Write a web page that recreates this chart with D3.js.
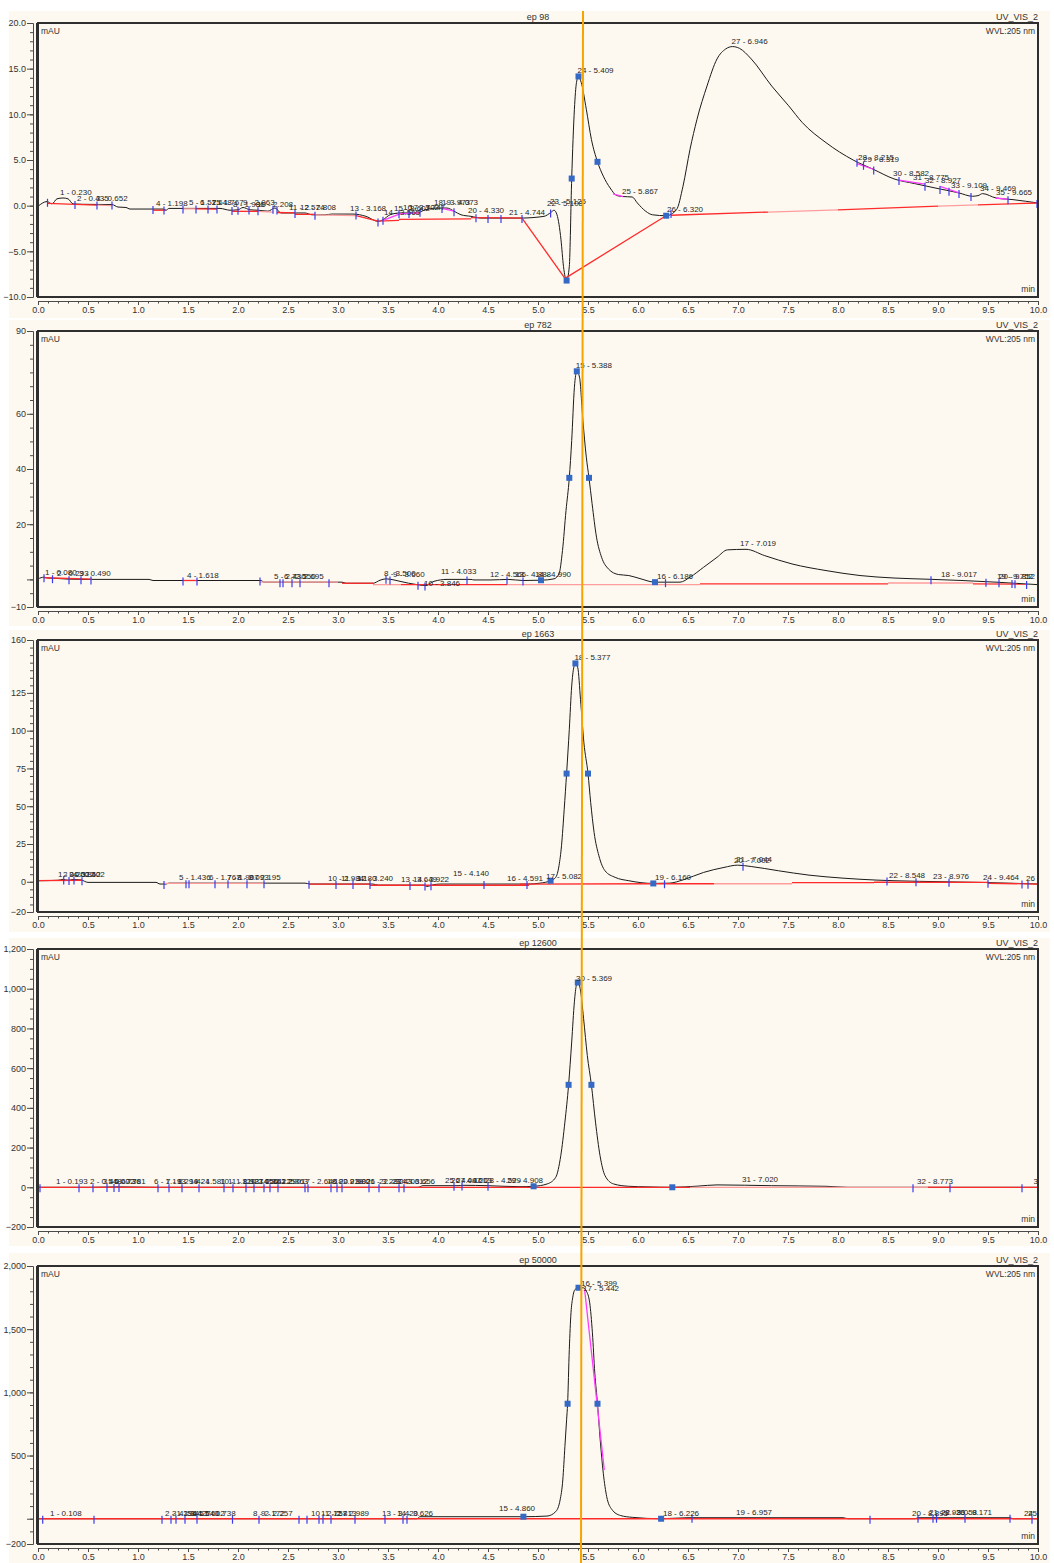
<!DOCTYPE html>
<html>
<head>
<meta charset="utf-8">
<script src="https://cdn.jsdelivr.net/npm/d3@7"></script>
<style>
  html, body { margin: 0; padding: 0; background: #ffffff; }
  svg { display: block; font-family: "Liberation Sans", Arial, sans-serif; }
</style>
</head>
<body>
<svg id="chart" width="1054" height="1563"></svg>
<script>
// ---------- chromatogram data (time in min, signal in mAU) ----------
const samples = ["ep 98", "ep 782", "ep 1663", "ep 12600", "ep 50000"];
const channelName = "UV_VIS_2";
const wavelengthLabel = "WVL:205 nm";
const signalUnit = "mAU";
const timeUnit = "min";
const timeTickLabels = [0, 0.5, 1, 1.5, 2, 2.5, 3, 3.5, 4, 4.5, 5, 5.5, 6, 6.5, 7, 7.5, 8, 8.5, 9, 9.5, 10];
const yDomains = [[-10, 20], [-10, 90], [-20, 160], [-200, 1200], [-200, 2000]];
const yTickLabels = [
  [20, 15, 10, 5, 0, -5, -10],
  [90, 60, 40, 20, -10],
  [160, 125, 100, 75, 50, 25, 0, -20],
  [1200, 1000, 800, 600, 400, 200, 0, -200],
  [2000, 1500, 1000, 500, -200]
];
const yMinorSteps = [1, 5, 5, 50, 100];
const cursorTimes = [5.45, 5.43]; // cursor line: time at top and at bottom of the page

const trace98 = [
  [0,-0.07],[0.09,0.45],[0.14,0.2],[0.19,0.75],[0.25,0.84],[0.30,0.75],[0.35,0.2],[0.45,0.15],[0.74,0.12],
  [0.80,-0.15],[0.88,-0.2],[0.92,-0.37],[1.25,-0.37],[1.28,-0.5],[1.31,-0.3],[1.82,-0.3],[1.92,-0.5],[2.0,-0.45],
  [2.05,-0.2],[2.12,-0.45],[2.2,-0.5],[2.3,-0.6],[2.37,-0.25],[2.43,-0.8],[2.67,-0.8],[2.74,-1.0],[2.87,-1.0],
  [2.94,-0.92],[3.15,-0.92],[3.28,-1.17],[3.40,-1.72],[3.45,-1.54],[3.52,-1.0],[3.62,-0.8],[3.79,-0.8],[3.86,-0.5],
  [3.99,-0.26],[4.09,-0.26],[4.16,-0.6],[4.23,-1.0],[4.33,-1.17],[4.43,-1.36],[4.82,-1.36],[5.06,-1.17],[5.13,-0.73],
  [5.16,-0.5],[5.19,-1.0],[5.23,-3.74],[5.255,-6.67],[5.286,-8.2],[5.313,-6.67],[5.337,2.97],[5.364,10.56],[5.385,13.5],
  [5.405,14.15],[5.432,13.5],[5.483,10.56],[5.534,7.26],[5.595,4.8],[5.653,3.23],[5.721,1.94],[5.789,1.1],[5.85,1.0],
  [5.942,0.95],[5.993,0.3],[6.078,-0.62],[6.146,-1.0],[6.282,-1.1],[6.385,-0.44],[6.45,2.13],[6.52,6.16],[6.59,9.46],
  [6.69,13.1],[6.79,16.06],[6.877,17.16],[6.945,17.42],[7.014,17.23],[7.133,16.06],[7.337,13.1],[7.507,10.93],[7.643,9.1],
  [7.88,6.9],[8.153,4.99],[8.357,3.96],[8.56,2.93],[8.765,2.42],[8.97,1.94],[9.208,1.4],[9.344,1.03],[9.40,1.1],
  [9.446,1.32],[9.58,0.84],[9.75,0.66],[10.0,0.29]
];
const trace782 = [
  [0,0.2],[0.06,0.8],[0.10,0.5],[0.16,0.4],[0.3,0.1],[0.47,0],[1.11,0],[1.15,-0.4],[2.23,-0.4],[2.26,-1.0],[3.04,-1.0],
  [3.08,-1.4],[3.35,-1.4],[3.42,-0.3],[3.48,0.2],[3.56,-0.2],[3.62,-0.7],[3.79,-1.9],[3.87,-2.2],[3.96,-0.7],[4.09,0],
  [4.33,0],[4.36,-0.2],[4.53,-0.2],[4.7,0],[4.85,-0.4],[5.03,-0.3],[5.16,0.2],[5.21,2.0],[5.245,10.5],[5.28,24.9],
  [5.313,36.8],[5.337,50.3],[5.364,69.6],[5.388,75.4],[5.415,73.3],[5.449,57.6],[5.483,44.3],[5.51,36.8],[5.541,27.4],
  [5.585,15.3],[5.636,8.0],[5.704,3.8],[5.806,1.75],[5.908,1.4],[6.01,0.4],[6.17,-1.0],[6.42,-1.0],[6.52,0.8],
  [6.656,4.4],[6.79,8.0],[6.894,10.7],[7.08,10.9],[7.268,8.6],[7.54,5.6],[7.88,3.2],[8.22,1.4],[8.56,0.5],[8.9,0.06],
  [9.24,-0.4],[9.58,-1.0],[10.0,-1.9]
];
const trace1663 = [
  [0,0.7],[0.2,1.0],[0.25,1.6],[0.3,1.0],[0.35,1.5],[0.43,1.2],[0.5,-0.4],[1.18,-0.4],[1.22,-1.5],[1.28,-1.5],[1.31,-0.9],
  [2.67,-0.9],[2.72,-1.5],[3.35,-1.5],[3.4,-2.2],[3.86,-2.2],[3.89,-3.1],[3.95,-2.0],[4.03,-1.5],[4.9,-1.5],[5.02,-0.9],
  [5.126,0.7],[5.177,2.9],[5.21,10.6],[5.235,23.8],[5.262,48],[5.286,71.6],[5.313,100.9],[5.337,129.5],[5.357,141.6],
  [5.374,144.5],[5.398,141.6],[5.425,120.7],[5.459,92],[5.50,71.6],[5.527,52.4],[5.561,32.6],[5.609,17.2],[5.67,7.3],
  [5.772,2.9],[5.908,0.7],[6.153,-1.1],[6.316,-0.9],[6.452,1.3],[6.656,6.2],[6.86,9.5],[6.996,11.0],[7.132,10.1],
  [7.404,7.3],[7.71,4.4],[8.05,2.4],[8.39,1.1],[8.56,0.7],[9.07,0],[9.41,-0.4],[10.0,-1.5]
];
const trace12600 = [
  [0,0],[0.5,0],[0.8,2],[1.2,0],[3.8,0],[3.85,8],[4.2,8],[4.25,10],[4.5,8],[4.82,3],[4.956,5],[5.092,17],[5.177,50],
  [5.228,160],[5.269,328],[5.306,516],[5.337,732],[5.364,934],[5.384,1018],[5.398,1031],[5.422,1001],[5.456,849],
  [5.493,664],[5.534,516],[5.575,328],[5.62,160],[5.67,59],[5.755,17],[5.908,5],[6.1,2],[6.343,0],[6.6,6],[6.79,12],
  [7.336,8],[7.88,5],[8.1,0],[10.0,0]
];
const trace50000 = [
  [0,0],[3.79,0],[3.82,16],[4.75,16],[4.854,16],[5.09,21],[5.177,56],[5.221,148],[5.248,307],[5.269,571],[5.286,783],
  [5.296,910],[5.313,1339],[5.33,1630],[5.347,1749],[5.371,1815],[5.405,1828],[5.449,1828],[5.483,1802],[5.517,1709],
  [5.544,1471],[5.568,1153],[5.595,910],[5.622,624],[5.653,360],[5.687,175],[5.738,74],[5.823,26],[5.942,11],[6.231,0],
  [6.5,8],[8.05,8],[8.1,0],[8.77,0],[8.8,8],[9.72,8],[9.75,0],[10,0]
];

// baseline segments: [t0, v0, t1, v1, kind]  kind 0 = baseline, 1 = faded baseline, 2 = skim
const baseline98 = [
  [0.095,0.25,0.37,0.15,0],[0.37,0.15,0.59,0.05,0],[0.59,0.05,0.74,0.0,1],
  [1.15,-0.5,1.28,-0.5,0],[1.45,-0.35,1.58,-0.35,1],[1.58,-0.35,1.79,-0.38,0],
  [1.94,-0.62,2.2,-0.62,0],[2.2,-0.62,2.35,-0.7,1],[2.39,-0.75,2.57,-0.8,0],
  [2.57,-0.95,2.77,-0.95,0],[2.77,-1.0,3.18,-1.08,1],[3.18,-1.08,3.40,-1.7,0],
  [3.40,-1.7,3.61,-1.6,0],[3.61,-1.5,4.33,-1.45,0],[4.33,-1.3,4.84,-1.36,0],
  [3.45,-1.6,3.62,-0.9,2],[3.62,-0.9,3.82,-0.8,2],[4.04,-0.3,4.16,-0.6,2],
  [4.84,-1.36,5.27,-7.96,0],[5.27,-7.96,6.28,-1.1,0],
  [6.33,-1.05,7.3,-0.7,0],[7.3,-0.7,8.0,-0.45,1],[8.0,-0.45,9.0,-0.05,0],[9.0,-0.05,9.4,0.08,1],[9.4,0.08,10.0,0.29,0],
  [5.75,1.3,5.85,1.0,2],[8.19,4.6,8.36,3.96,2],[8.61,2.8,8.87,2.35,2],[9.02,2.1,9.21,1.4,2],[9.58,0.84,9.70,0.7,2]
];
const baseline782 = [
  [0.06,0.6,0.54,0.1,0],[1.45,-0.4,1.59,-0.4,0],[2.22,-1.0,3.0,-1.0,1],[3.04,-1.4,3.35,-1.4,0],
  [3.35,-1.9,3.63,-1.9,1],[3.63,-1.9,4.69,-1.9,0],[4.69,-1.9,6.62,-1.9,1],[6.62,-1.6,8.5,-1.6,0],
  [8.5,-1.3,9.35,-1.3,1],[9.35,-1.6,9.9,-1.7,0]
];
const baseline1663 = [
  [0.0,0.7,0.44,1.0,0],[1.26,-1.0,2.26,-1.0,1],[2.71,-1.6,3.32,-1.6,0],[3.32,-2.3,4.91,-2.3,0],
  [4.82,-1.5,6.153,-1.3,0],[6.153,-1.3,6.76,-1.3,0],[6.76,-1.3,7.54,-1.3,1],[7.54,-0.5,8.36,-0.5,0],
  [8.36,-0.3,9.5,-0.4,0],[9.5,-1.0,10.0,-1.5,0]
];
const baseline12600 = [
  [0,0,4.956,0,0],[4.956,0,6.52,0,0],[6.52,0,8.76,0,1],[8.76,0,8.9,0,1],[8.9,0,9.12,0,0],[9.12,0,10,0,0]
];
const baseline50000 = [[0,0,10,0,0],[5.466,1815,5.663,386,2]];

// peak delimiters (min)
const delim98 = [0.095,0.37,0.59,0.74,1.15,1.26,1.45,1.58,1.70,1.79,1.94,2.0,2.11,2.2,2.35,2.39,2.57,2.77,3.18,3.40,3.45,
  3.61,3.71,3.82,4.04,4.16,4.38,4.5,4.63,4.84,5.126,6.33,8.19,8.255,8.357,8.61,8.87,9.02,9.11,9.21,9.33,9.70,9.99];
const delim782 = [0.06,0.145,0.31,0.43,0.53,1.45,1.59,2.22,2.42,2.45,2.54,2.62,2.91,3.48,3.52,3.8,3.87,4.29,4.69,4.85,
  6.275,8.93,9.48,9.61,9.74,9.77,9.886];
const delim1663 = [0.003,0.257,0.31,0.36,0.44,1.26,1.48,1.51,1.77,1.90,2.09,2.26,2.71,2.98,3.15,3.32,3.72,3.87,3.93,4.46,
  4.89,6.265,7.05,8.49,8.78,9.11,9.5,9.84,9.9];
const delim12600 = [0.02,0.41,0.55,0.69,0.76,0.81,1.2,1.31,1.44,1.61,1.86,1.95,2.08,2.16,2.26,2.32,2.40,2.67,2.70,2.93,
  2.99,3.04,3.31,3.41,3.61,3.66,4.16,4.24,4.5,8.75,9.12,9.84,10.0];
const delim50000 = [0.047,0.56,1.24,1.33,1.38,1.47,1.59,1.945,2.21,2.61,2.69,2.81,2.85,2.93,3.17,3.47,3.65,3.69,6.54,
  8.32,8.80,8.95,8.985,9.27,9.72,9.94,10.0];

// integration markers (min)
const markers98 = [5.286, 5.337, 5.405, 5.595, 6.282];
const markers782 = [5.03, 5.313, 5.388, 5.51, 6.17];
const markers1663 = [5.126, 5.286, 5.374, 5.50, 6.153];
const markers12600 = [4.956, 5.306, 5.398, 5.534, 6.343];
const markers50000 = [4.854, 5.296, 5.405, 5.595, 6.231];

// peak labels: [label time, text, optional vertical shift]
const peaks98 = [
  [0.23,"1 - 0.230"],[0.40,"2 - 0.435"],[0.59,"3 - 0.652"],[1.19,"4 - 1.198"],[1.52,"5 - 1.525"],[1.63,"6 - 1.648"],
  [1.75,"7 - 1.767"],[1.96,"8 - 1.986"],[2.06,"9 - 2.063"],[2.20,"10 - 2.208"],[2.52,"11 - 2.574"],[2.63,"12 - 2.808"],
  [3.13,"13 - 3.168"],[3.47,"14 - 3.565"],[3.57,"15 - 3.602"],[3.66,"16 - 3.702"],[3.72,"17 - 3.747"],[3.97,"18 - 3.973"],
  [4.05,"19 - 4.073"],[4.31,"20 - 4.330"],[4.72,"21 - 4.744"],[5.10,"22 - 5.108",-5],[5.13,"23 - 5.125",-5],
  [5.405,"24 - 5.409"],[5.85,"25 - 5.867"],[6.30,"26 - 6.320"],[6.946,"27 - 6.946"],[8.21,"28 - 8.215"],
  [8.26,"29 - 8.319"],[8.56,"30 - 8.582"],[8.76,"31 - 8.775"],[8.88,"32 - 8.927"],[9.14,"33 - 9.109"],
  [9.43,"34 - 9.469"],[9.59,"35 - 9.665"]
];
const peaks782 = [
  [0.08,"1 - 0.080"],[0.20,"2 - 0.293"],[0.42,"3 - 0.490"],[1.50,"4 - 1.618"],[2.37,"5 - 2.430"],[2.47,"6 - 2.550"],
  [2.55,"7 - 2.695"],[3.47,"8 - 3.500"],[3.56,"9 - 3.660"],[3.87,"10 - 3.846",4],[4.04,"11 - 4.033",-3],
  [4.53,"12 - 4.566"],[4.78,"13 - 4.888"],[4.98,"14 - 4.990"],[5.388,"15 - 5.388"],[6.20,"16 - 6.186"],
  [7.03,"17 - 7.019"],[9.04,"18 - 9.017"],[9.60,"19 - 9.752"],[9.62,"20 - 9.852"]
];
const peaks1663 = [
  [0.21,"1 - 0.252"],[0.26,"2 - 0.312"],[0.32,"3 - 0.352"],[0.36,"4 - 0.402"],[1.42,"5 - 1.436"],[1.72,"6 - 1.767"],
  [1.90,"7 - 1.907"],[2.00,"8 - 2.093"],[2.12,"9 - 2.195"],[2.91,"10 - 2.984"],[3.04,"11 - 3.180"],[3.20,"12 - 3.240"],
  [3.64,"13 - 3.649"],[3.76,"14 - 3.922"],[4.16,"15 - 4.140",-5],[4.70,"16 - 4.591"],[5.09,"17 - 5.082"],
  [5.374,"18 - 5.377"],[6.18,"19 - 6.160"],[6.97,"20 - 7.002"],[6.99,"21 - 7.044"],[8.52,"22 - 8.548"],
  [8.96,"23 - 8.976"],[9.46,"24 - 9.464"],[9.89,"26"]
];
const peaks12600 = [
  [0.19,"1 - 0.193"],[0.53,"2 - 0.548"],[0.66,"3 - 0.672"],[0.72,"4 - 0.736"],[0.77,"5 - 0.781"],[1.17,"6 - 1.193"],
  [1.29,"7 - 1.294"],[1.41,"8 - 1.424"],[1.57,"9 - 1.581"],[1.83,"10 - 1.810"],[1.91,"11 - 1.927"],[2.05,"12 - 2.056"],
  [2.13,"13 - 2.141"],[2.22,"14 - 2.225"],[2.28,"15 - 2.290"],[2.35,"16 - 2.363"],[2.64,"17 - 2.646"],
  [2.90,"18 - 2.918"],[2.97,"19 - 2.980"],[3.02,"20 - 3.026"],[3.29,"21 - 3.287"],[3.42,"22 - 3.420"],
  [3.55,"23 - 3.612"],[3.62,"24 - 3.656"],[4.08,"25 - 4.097"],[4.14,"26 - 4.161"],[4.19,"27 - 4.203"],
  [4.48,"28 - 4.529"],[4.70,"29 - 4.908"],[5.39,"30 - 5.369"],[7.05,"31 - 7.020"],[8.80,"32 - 8.773"],
  [9.965,"3"]
];
const peaks50000 = [
  [0.13,"1 - 0.108"],[1.28,"2 - 1.294"],[1.35,"3 - 1.345"],[1.42,"4 - 1.427"],[1.50,"5 - 1.540"],[1.56,"6 - 1.602"],
  [1.67,"7 - 1.738"],[2.16,"8 - 2.172"],[2.24,"9 - 2.257"],[2.74,"10 - 2.757"],[2.84,"11 - 2.813"],[2.96,"12 - 2.989"],
  [3.45,"13 - 3.420"],[3.60,"14 - 3.626"],[4.62,"15 - 4.860",-3],[5.44,"16 - 5.399",1],[5.46,"17 - 5.442",5],
  [6.26,"18 - 6.226"],[6.99,"19 - 6.957"],[8.75,"20 - 8.895"],[8.92,"21 - 8.936"],[9.04,"22 - 9.058"],
  [9.19,"23 - 9.171"],[9.87,"24"],[9.91,"25"]
];

const traces = [trace98, trace782, trace1663, trace12600, trace50000];
const baselines = [baseline98, baseline782, baseline1663, baseline12600, baseline50000];
const delimiters = [delim98, delim782, delim1663, delim12600, delim50000];
const markers = [markers98, markers782, markers1663, markers12600, markers50000];
const peakLabels = [peaks98, peaks782, peaks1663, peaks12600, peaks50000];

// ---------- layout ----------
const svg = d3.select("#chart");
const plotLeft = 38, plotRight = 1038;
const panels = [
  { top: 23,   bottom: 297,  bgTop: 11,   bgBottom: 318 },
  { top: 331,  bottom: 607,  bgTop: 320,  bgBottom: 626 },
  { top: 640,  bottom: 912,  bgTop: 630,  bgBottom: 932 },
  { top: 949,  bottom: 1227, bgTop: 938,  bgBottom: 1246 },
  { top: 1266, bottom: 1544, bgTop: 1253, bgBottom: 1563 }
];
const yFormats = [d3.format(".1f"), d3.format("d"), d3.format("d"), d3.format(","), d3.format(",")];

const x = d3.scaleLinear().domain([0, 10]).range([plotLeft, plotRight]);
const bis = d3.bisector(d => d[0]).left;
function valueAt(tr, t) {
  const i = bis(tr, t);
  if (i <= 0) return tr[0][1];
  if (i >= tr.length) return tr[tr.length - 1][1];
  const a = tr[i - 1], b = tr[i];
  return a[1] + (b[1] - a[1]) * (t - a[0]) / (b[0] - a[0]);
}
const baselineColors = ["#ff2b2b", "#ff9d9d", "#ff3cff"];

panels.forEach((p, i) => {
  const y = d3.scaleLinear().domain(yDomains[i]).range([p.bottom, p.top]);
  const g = svg.append("g");

  g.append("rect")
    .attr("x", 9).attr("y", p.bgTop)
    .attr("width", 1041).attr("height", p.bgBottom - p.bgTop)
    .attr("fill", "#fdf9f0");

  const clipId = "clip" + i;
  svg.append("clipPath").attr("id", clipId)
    .append("rect").attr("x", plotLeft).attr("y", p.top)
    .attr("width", plotRight - plotLeft).attr("height", p.bottom - p.top);
  const plot = g.append("g").attr("clip-path", `url(#${clipId})`);

  // signal trace
  plot.append("path")
    .datum(traces[i])
    .attr("fill", "none")
    .attr("stroke", "#1b1b1b")
    .attr("stroke-width", 1)
    .attr("d", d3.line().x(d => x(d[0])).y(d => y(d[1])).curve(d3.curveMonotoneX));

  // integration baselines
  plot.selectAll("line.base").data(baselines[i]).join("line")
    .attr("class", "base")
    .attr("x1", d => x(d[0])).attr("y1", d => y(d[1]))
    .attr("x2", d => x(d[2])).attr("y2", d => y(d[3]))
    .attr("stroke", d => baselineColors[d[4]])
    .attr("stroke-width", 1.3);

  // peak delimiters
  plot.selectAll("line.delim").data(delimiters[i]).join("line")
    .attr("class", "delim")
    .attr("x1", d => x(d)).attr("x2", d => x(d))
    .attr("y1", d => y(valueAt(traces[i], d)) - 3)
    .attr("y2", d => y(valueAt(traces[i], d)) + 5)
    .attr("stroke", "#3b3bef")
    .attr("stroke-width", 1.2);

  // integration markers
  plot.selectAll("rect.mk").data(markers[i]).join("rect")
    .attr("class", "mk")
    .attr("x", d => x(d) - 3).attr("y", d => y(valueAt(traces[i], d)) - 3)
    .attr("width", 6).attr("height", 6)
    .attr("fill", "#3569c6");

  // peak labels
  plot.selectAll("text.pk").data(peakLabels[i]).join("text")
    .attr("class", "pk")
    .attr("x", d => x(d[0]) - 1)
    .attr("y", d => y(valueAt(traces[i], d[0])) - 3 + (d[2] || 0))
    .attr("font-size", 8)
    .attr("fill", "#262626")
    .text(d => d[1]);

  // frame
  g.append("rect")
    .attr("x", plotLeft).attr("y", p.top)
    .attr("width", plotRight - plotLeft).attr("height", p.bottom - p.top)
    .attr("fill", "none").attr("stroke", "#2f2f2f").attr("stroke-width", 2);
  g.append("line")
    .attr("x1", plotLeft - 0.5).attr("x2", plotLeft - 0.5)
    .attr("y1", p.top).attr("y2", p.bottom)
    .attr("stroke", "#2f2f2f").attr("stroke-width", 3);

  // y axis
  const [lo, hi] = yDomains[i];
  const minorVals = d3.range(lo, hi + 1e-9, yMinorSteps[i]);
  const yMinor = g.append("g").attr("transform", "translate(33,0)")
    .call(d3.axisLeft(y).tickValues(minorVals).tickSize(3).tickSizeOuter(0).tickFormat(""));
  const yMajor = g.append("g").attr("transform", "translate(33,0)")
    .call(d3.axisLeft(y).tickValues(Array.from(new Set(yTickLabels[i].concat([0]))))
      .tickSize(6).tickSizeOuter(0).tickPadding(1)
      .tickFormat(v => yTickLabels[i].includes(v) ? yFormats[i](v) : ""));

  // x axis
  const xMinor = g.append("g").attr("transform", `translate(0,${p.bottom + 4})`)
    .call(d3.axisBottom(x).tickValues(d3.range(0, 10.0001, 0.1)).tickSize(2.5).tickSizeOuter(0).tickFormat(""));
  const xMajor = g.append("g").attr("transform", `translate(0,${p.bottom + 4})`)
    .call(d3.axisBottom(x).tickValues(timeTickLabels).tickSize(4).tickSizeOuter(0).tickPadding(2)
      .tickFormat(d3.format(".1f")));

  [yMinor, yMajor, xMinor, xMajor].forEach(a => {
    a.selectAll("path.domain").attr("stroke", "#4a4a4a").attr("stroke-width", 1);
    a.selectAll(".tick line").attr("stroke", "#4a4a4a");
    a.selectAll(".tick text").attr("fill", "#333").attr("font-size", 9)
      .attr("font-family", "Liberation Sans, Arial, sans-serif");
  });

  // headings and units
  g.append("text").attr("x", (plotLeft + plotRight) / 2).attr("y", p.top - 3.5)
    .attr("text-anchor", "middle").attr("font-size", 9).attr("fill", "#333").text(samples[i]);
  g.append("text").attr("x", plotRight).attr("y", p.top - 3.5)
    .attr("text-anchor", "end").attr("font-size", 9).attr("fill", "#333").text(channelName);
  g.append("text").attr("x", plotLeft + 3).attr("y", p.top + 11)
    .attr("font-size", 8.5).attr("fill", "#333").text(signalUnit);
  g.append("text").attr("x", plotRight - 3).attr("y", p.top + 11)
    .attr("text-anchor", "end").attr("font-size", 8.5).attr("fill", "#333").text(wavelengthLabel);
  g.append("text").attr("x", plotRight - 3).attr("y", p.bottom - 5)
    .attr("text-anchor", "end").attr("font-size", 8.5).attr("fill", "#333").text(timeUnit);
});

// retention-time cursor across all runs
svg.append("line")
  .attr("x1", x(cursorTimes[0])).attr("y1", 11)
  .attr("x2", x(cursorTimes[1])).attr("y2", 1563)
  .attr("stroke", "#f6a500").attr("stroke-width", 2);
</script>
</body>
</html>
